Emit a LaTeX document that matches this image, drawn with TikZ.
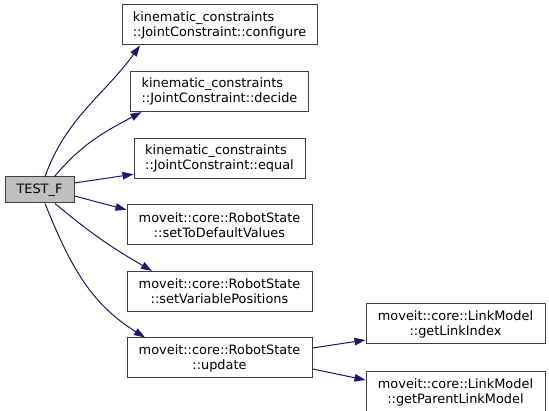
\documentclass[tikz,border=0pt]{standalone}
\usepackage{fontspec}
\setmainfont{DejaVu Sans}
\usetikzlibrary{arrows.meta, positioning}
\definecolor{edgeblue}{HTML}{191970}
\definecolor{boxgray}{HTML}{404040}

\begin{document}
\begin{tikzpicture}[x=1pt, y=1pt, node distance=25.6pt, >={Triangle[length=11pt,width=7.5pt]},
        font=\fontsize{12.9}{15}\selectfont,
        fn/.style={draw=boxgray, line width=1pt, fill=white, minimum height=40pt, inner sep=0pt, align=center},
        call/.style={->, color=edgeblue, line width=1pt}]
        \useasboundingbox (0,0) rectangle (549,411);
        \node (tf)   [fn, fill=gray!50, minimum width=69pt, minimum height=26pt] at (39.5,221) {TEST\_F};
        \node (cfg)  [fn, align=left, minimum width=195pt] at (219.5,386) {kinematic\_constraints\\::JointConstraint::configure};
        \node (dec)  [fn, align=left, minimum width=178pt, below=of cfg] {kinematic\_constraints\\::JointConstraint::decide};
        \node (eq)   [fn, align=left, minimum width=171pt, below=of dec] {kinematic\_constraints\\::JointConstraint::equal};
        \node (sdv)  [fn, minimum width=185pt, below=of eq] {moveit::core::RobotState\\::setToDefaultValues};
        \node (svp)  [fn, minimum width=185pt, below=of sdv] {moveit::core::RobotState\\::setVariablePositions};
        \node (upd)  [fn, minimum width=185pt, below=of svp] {moveit::core::RobotState\\::update};
        \node (gli)  [fn, minimum width=179pt, above right=-7pt and 53pt of upd] {moveit::core::LinkModel\\::getLinkIndex};
        \node (gplm) [fn, minimum width=179pt, below right=-7pt and 53pt of upd] {moveit::core::LinkModel\\::getParentLinkModel};
        \draw[call] ([xshift=5.5pt]tf.north) to[out=70,in=234] ([xshift=-79.5pt]cfg.south);
        \draw[call] ([xshift=15pt]tf.north) to[out=50,in=208] ([xshift=-78pt]dec.south);
        \draw[call] ([yshift=7pt]tf.east) -- ([yshift=-16pt]eq.west);
        \draw[call] ([yshift=-6pt]tf.east) -- ([yshift=15pt]sdv.west);
        \draw[call] ([xshift=15.5pt]tf.south) to[out=-40,in=150] ([xshift=-67.5pt]svp.north);
        \draw[call] ([xshift=5.5pt]tf.south) to[out=-68,in=148] ([xshift=-74.5pt]upd.north);
        \draw[call] ([yshift=10pt]upd.east) -- ([yshift=-16pt]gli.west);
        \draw[call] ([yshift=-11pt]upd.east) -- ([yshift=12pt]gplm.west);
      \end{tikzpicture}
\end{document}
